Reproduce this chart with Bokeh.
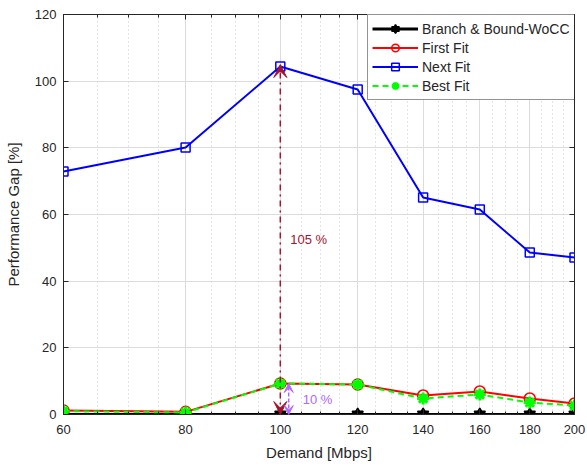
from bokeh.plotting import figure
from bokeh.models import (Range1d, FixedTicker, LogAxis, LinearAxis, PrintfTickFormatter,
                          Arrow, VeeHead, Label, Legend, LegendItem)
from bokeh.embed import file_html
from bokeh.resources import INLINE

demand = [60, 80, 100, 120, 140, 160, 180, 200]
branch_bound = [0, 0, 0, 0, 0, 0, 0, 0]
first_fit = [1.2, 0.8, 9.3, 9.0, 5.7, 6.9, 4.8, 3.3]
next_fit = [72.9, 80.1, 104.4, 97.5, 65.1, 61.5, 48.6, 47.1]
best_fit = [1.0, 0.6, 9.3, 9.0, 4.8, 6.0, 3.6, 2.7]
x_ticks = [60, 80, 100, 120, 140, 160, 180, 200]
x_minor = [v for v in range(65, 200, 5) if v not in x_ticks]
y_ticks = [0, 20, 40, 60, 80, 100, 120]

# annotation values
big_gap_x = 100
big_gap_top = 105
small_gap_x = 102
small_gap_top = 9.3
big_label = "105 %"
small_label = "10 %"

FONT = "Liberation Sans"
TXT = "#262626"

p = figure(width=587, height=468, x_axis_type="log", output_backend="svg",
           toolbar_location=None, x_range=Range1d(60, 200), y_range=Range1d(0, 120),
           min_border_left=63, min_border_right=13, min_border_top=14, min_border_bottom=54)
p.outline_line_color = TXT
p.outline_line_width = 1
p.background_fill_color = "white"

xt = FixedTicker(ticks=x_ticks, minor_ticks=x_minor)
yt = FixedTicker(ticks=y_ticks)

p.xaxis.ticker = xt
p.xaxis.formatter = PrintfTickFormatter(format="%d")
p.yaxis.ticker = yt
for ax in (p.xaxis[0], p.yaxis[0]):
    ax.axis_line_color = TXT
    ax.major_tick_line_color = TXT
    ax.minor_tick_line_color = TXT
    ax.major_tick_in = 5
    ax.major_tick_out = 0
    ax.minor_tick_in = 3
    ax.minor_tick_out = 0
    ax.major_label_text_font = FONT
    ax.major_label_text_font_size = "13px"
    ax.major_label_text_color = TXT
    ax.axis_label_text_font = FONT
    ax.axis_label_text_font_size = "15px"
    ax.axis_label_text_color = TXT
    ax.axis_label_text_font_style = "normal"
p.yaxis.minor_tick_line_color = None
p.xaxis.axis_label = "Demand [Mbps]"
p.yaxis.axis_label = "Performance Gap [%]"
p.xaxis.major_label_standoff = 10
p.xaxis.axis_label_standoff = 7
p.yaxis.major_label_standoff = 7
p.yaxis.axis_label_standoff = 10

top = LogAxis(ticker=xt, major_label_overrides={t: "" for t in x_ticks},
              major_tick_in=5, major_tick_out=0,
              minor_tick_in=3, minor_tick_out=0, axis_line_color=TXT,
              major_tick_line_color=TXT, minor_tick_line_color=TXT, major_label_standoff=0)
right = LinearAxis(ticker=yt, major_label_overrides={t: "" for t in y_ticks},
                   major_tick_in=5, major_tick_out=0,
                   minor_tick_line_color=None, axis_line_color=TXT,
                   major_tick_line_color=TXT, major_label_standoff=0)
p.add_layout(top, "above")
p.add_layout(right, "right")

p.xgrid.ticker = xt
p.ygrid.ticker = yt
p.xgrid.grid_line_color = "#dcdcdc"
p.ygrid.grid_line_color = "#dcdcdc"
p.xgrid.minor_grid_line_color = "#c8c8c8"
p.xgrid.minor_grid_line_dash = "1 3"

# series
bb_l = p.line(demand, branch_bound, line_color="black", line_width=3)
bb_m1 = p.scatter(demand, branch_bound, marker="triangle", size=11, line_color="black",
                  fill_color="black", line_width=1.5)
bb_m2 = p.scatter(demand, branch_bound, marker="inverted_triangle", size=11, line_color="black",
                  fill_color="black", line_width=1.5)

ff_l = p.line(demand, first_fit, line_color="red", line_width=2)
ff_m = p.scatter(demand, first_fit, marker="circle", size=11, line_color="red",
                 fill_color=None, line_width=1.5)

nf_l = p.line(demand, next_fit, line_color="blue", line_width=2)
nf_m = p.scatter(demand, next_fit, marker="square", size=9, line_color="blue",
                 fill_color=None, line_width=1.5)

bf_l = p.line(demand, best_fit, line_color="#00ff00", line_width=2, line_dash="6 4")
bf_m = p.scatter(demand, best_fit, marker="asterisk", size=12, line_color="#00ff00",
                 line_width=3)

# annotations
RED = "#a2142f"
PUR = "#b266ff"
p.add_layout(Arrow(x_start=big_gap_x, y_start=0, x_end=big_gap_x, y_end=big_gap_top,
                   line_color=RED, line_width=1.5, line_dash="dashdot",
                   start=VeeHead(size=13, fill_color=RED, line_color=RED),
                   end=VeeHead(size=13, fill_color=RED, line_color=RED)))
p.add_layout(Arrow(x_start=small_gap_x, y_start=0, x_end=small_gap_x, y_end=small_gap_top,
                   line_color=PUR, line_width=1.5, line_dash="4 2",
                   start=VeeHead(size=9, fill_color=PUR, line_color=PUR),
                   end=VeeHead(size=9, fill_color=PUR, line_color=PUR)))
p.add_layout(Label(x=big_gap_x, y=big_gap_top / 2, text=big_label, x_offset=10,
                   text_font=FONT, text_font_size="13px", text_color=RED,
                   text_baseline="middle"))
p.add_layout(Label(x=small_gap_x, y=small_gap_top / 2, text=small_label, x_offset=14,
                   text_font=FONT, text_font_size="13px", text_color=PUR,
                   text_baseline="middle"))

legend = Legend(items=[
    LegendItem(label="Branch & Bound-WoCC", renderers=[bb_l, bb_m1, bb_m2]),
    LegendItem(label="First Fit", renderers=[ff_l, ff_m]),
    LegendItem(label="Next Fit", renderers=[nf_l, nf_m]),
    LegendItem(label="Best Fit", renderers=[bf_l, bf_m]),
], location=(304, 314))
legend.label_text_font = FONT
legend.label_text_font_size = "14px"
legend.label_text_color = TXT
legend.glyph_width = 46
legend.glyph_height = 19
legend.label_height = 19
legend.spacing = 0
legend.padding = 4
legend.margin = 0
legend.label_standoff = 4
legend.border_line_color = TXT
legend.border_line_width = 1
legend.background_fill_alpha = 1
p.add_layout(legend, "center")

open("out.html", "w").write(file_html(p, INLINE))
